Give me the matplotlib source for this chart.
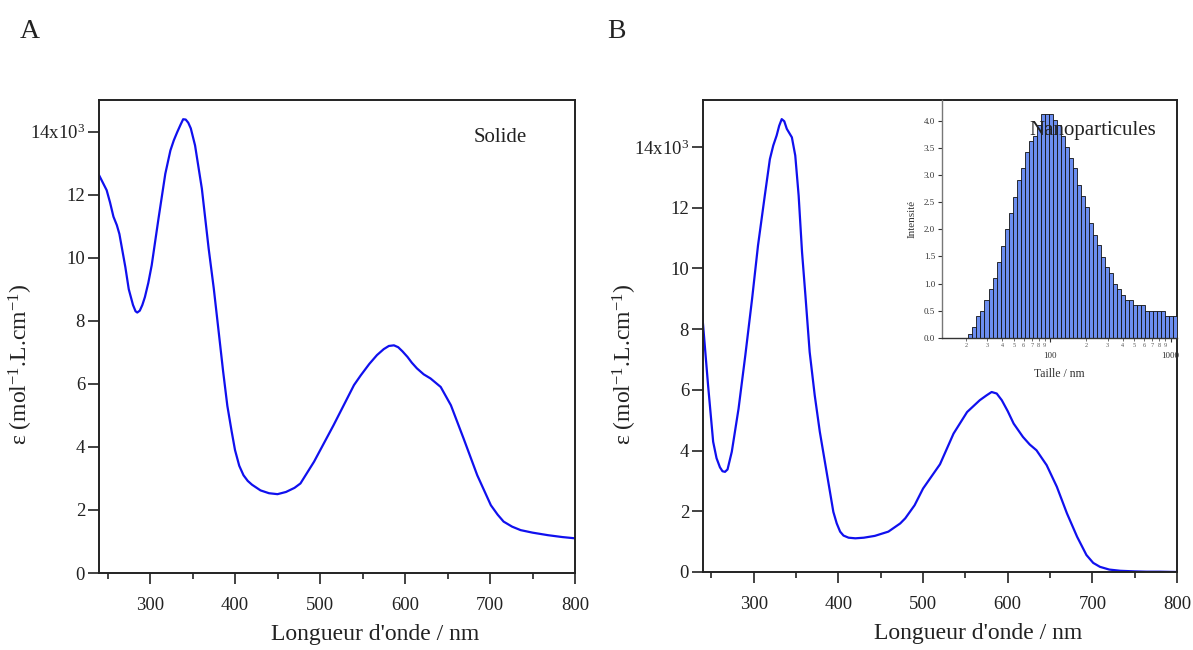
import numpy as np
import matplotlib
matplotlib.use("Agg")
import matplotlib.pyplot as plt
from matplotlib.ticker import FixedLocator, FixedFormatter, MultipleLocator, LogLocator, FuncFormatter

plt.rcParams['font.family'] = ['Liberation Serif', 'DejaVu Serif']
plt.rcParams['mathtext.fontset'] = 'custom'
plt.rcParams['mathtext.rm'] = 'Liberation Serif'
plt.rcParams['mathtext.it'] = 'Liberation Serif:italic'
plt.rcParams['mathtext.bf'] = 'Liberation Serif:bold'

# ---------------- data ----------------
# Panel A : solid (wavelength nm, epsilon x10^3)
wl_solide = [240, 249, 253, 257, 261, 264, 267, 271, 275, 280, 283, 285, 288, 291, 294, 298, 302,
             310, 318, 324, 328, 332, 336, 339, 342, 345, 348, 353, 361, 369, 375, 381, 386,
             391, 396, 400, 405, 410, 415, 420, 430, 440, 450, 460, 470, 477, 493, 516, 540,
             548, 558, 567, 575, 581, 587, 592, 597, 603, 608, 614, 622, 630, 642, 654, 669,
             685, 701, 709, 716, 726, 736, 750, 768, 785, 800]
eps_solide = [12.62, 12.14, 11.75, 11.3, 11.03, 10.75, 10.3, 9.7, 9.0, 8.5, 8.3, 8.26, 8.32, 8.5, 8.75,
              9.2, 9.76, 11.24, 12.66, 13.4, 13.72, 13.98, 14.22, 14.39, 14.38, 14.28, 14.1, 13.56,
              12.19, 10.29, 9.03, 7.6, 6.4, 5.3, 4.5, 3.9, 3.4, 3.1, 2.92, 2.8, 2.62, 2.53, 2.5,
              2.57, 2.7, 2.84, 3.53, 4.69, 5.96, 6.27, 6.63, 6.91, 7.1, 7.2, 7.22, 7.16, 7.03,
              6.85, 6.67, 6.49, 6.3, 6.17, 5.9, 5.32, 4.26, 3.1, 2.15, 1.85, 1.63, 1.47, 1.36,
              1.28, 1.2, 1.14, 1.1]

# Panel B : nanoparticles
wl_nano = [239, 246, 252, 256, 260, 263, 266, 269, 274, 282, 290, 298, 305, 313, 319, 323, 327,
           330, 333, 336, 339, 345, 349, 353, 357, 361, 366, 372, 378, 386, 394, 398, 402, 406,
           412, 420, 430, 443, 459, 473, 479, 490, 500, 510, 520, 536, 552, 567, 575, 581,
           587, 593, 600, 607, 618, 626, 634, 646, 658, 670, 682, 693, 701, 709, 720, 733,
           750, 764, 780, 800]
eps_nano = [8.51, 6.15, 4.29, 3.75, 3.45, 3.32, 3.3, 3.38, 3.96, 5.38, 7.14, 9.0, 10.76, 12.4, 13.6,
            14.05, 14.38, 14.7, 14.92, 14.85, 14.6, 14.32, 13.72, 12.4, 10.54, 9.11, 7.25, 5.82,
            4.62, 3.3, 1.98, 1.6, 1.33, 1.2, 1.13, 1.11, 1.13, 1.19, 1.33, 1.6, 1.77, 2.2, 2.75,
            3.15, 3.55, 4.56, 5.27, 5.66, 5.82, 5.93, 5.88, 5.66, 5.3, 4.89, 4.45, 4.2, 4.01,
            3.52, 2.81, 1.93, 1.16, 0.56, 0.3, 0.17, 0.08, 0.04, 0.02, 0.01, 0.01, 0.0]

# Inset : size distribution (log bins, 30 per decade)
hist_start = 20.9
bins_per_decade = 30
hist_heights = [0.08, 0.2, 0.4, 0.5, 0.7, 0.9, 1.1, 1.4, 1.7, 2.0, 2.3, 2.6, 2.9, 3.12,
                3.42, 3.62, 3.72, 3.92, 4.12, 4.12, 4.12, 4.02, 3.92, 3.72, 3.52, 3.32,
                3.12, 2.81, 2.61, 2.41, 2.11, 1.9, 1.71, 1.49, 1.3, 1.2, 1.0, 0.9, 0.8,
                0.7, 0.7, 0.6, 0.6, 0.6, 0.5, 0.5, 0.5, 0.5, 0.5, 0.4, 0.4, 0.4, 0.23]

y_ticks = [0, 2, 4, 6, 8, 10, 12, 14]
y_tick_labels = ['0', '2', '4', '6', '8', '10', '12', '14x10$^{3}$']
x_ticks = [300, 400, 500, 600, 700, 800]
inset_y_ticks = [0.0, 0.5, 1.0, 1.5, 2.0, 2.5, 3.0, 3.5, 4.0]

LINE = '#1010ee'
W, H = 1193, 650
fig = plt.figure(figsize=(W / 100, H / 100), dpi=100)

def px_rect(l, r, t, b):
    return [l / W, 1 - b / H, (r - l) / W, (b - t) / H]

axA = fig.add_axes(px_rect(99, 575, 100, 573))
axB = fig.add_axes(px_rect(703, 1177, 100, 572))

def style(ax, ymax):
    ax.set_xlim(240, 800)
    ax.set_ylim(0, ymax)
    ax.yaxis.set_major_locator(FixedLocator(y_ticks))
    ax.yaxis.set_major_formatter(FixedFormatter(y_tick_labels))
    ax.xaxis.set_major_locator(FixedLocator(x_ticks))
    ax.xaxis.set_minor_locator(MultipleLocator(50))
    ax.tick_params(which='major', direction='out', length=8, width=1.2, labelsize=13.5,
                   colors='#222222', pad=2)
    ax.tick_params(axis='x', which='major', pad=9)
    ax.tick_params(which='minor', direction='out', length=4.5, width=1.2, colors='#222222')
    for s in ax.spines.values():
        s.set_linewidth(1.4)
        s.set_color('#222222')
    ax.set_xlabel("Longueur d'onde / nm", fontsize=17, color='#222222')
    ax.set_ylabel("ε (mol$^{-1}$.L.cm$^{-1}$)", fontsize=17, color='#222222')
    ax.xaxis.set_label_coords(0.58, -0.108)
    ax.yaxis.set_label_coords(-0.134, 0.44)

axA.plot(wl_solide, eps_solide, color=LINE, lw=1.6)
style(axA, 15.0)
axB.plot(wl_nano, eps_nano, color=LINE, lw=1.6)
style(axB, 15.55)

fig.text(20 / W, 1 - 32 / H, 'A', fontsize=20, va='center', ha='left', color='#222222')
fig.text(607 / W, 1 - 32 / H, 'B', fontsize=20, va='center', ha='left', color='#222222')
fig.text(500 / W, 1 - 137 / H, 'Solide', fontsize=15, ha='center', va='center', color='#222222')

# ---------------- inset ----------------
axI = fig.add_axes(px_rect(942, 1177, 100, 338))
axI.set_facecolor('none')
edges = [hist_start * 10 ** (i / bins_per_decade) for i in range(len(hist_heights) + 1)]
lefts = edges[:-1]
widths = [edges[i + 1] - edges[i] for i in range(len(hist_heights))]
axI.bar(lefts, hist_heights, width=widths, align='edge', color='#6c8ef0',
        edgecolor='#111111', linewidth=0.6)
axI.set_xscale('log')
axI.set_xlim(12.6, 1130)
axI.set_ylim(0, 4.38)
axI.yaxis.set_major_locator(FixedLocator(inset_y_ticks))
axI.yaxis.set_major_formatter(FuncFormatter(lambda v, p: f'{v:.1f}'))
axI.xaxis.set_major_locator(LogLocator(base=10))
axI.xaxis.set_major_formatter(FuncFormatter(lambda v, p: f'{v:g}'))
axI.xaxis.set_minor_locator(LogLocator(base=10, subs=np.arange(2, 10)))
def minor_fmt(v, p):
    m = v / 10 ** np.floor(np.log10(v) + 1e-9)
    return f'{int(round(m))}'
axI.xaxis.set_minor_formatter(FuncFormatter(minor_fmt))
axI.tick_params(which='major', direction='out', length=3, width=0.8, labelsize=6.5,
                colors='#333333', pad=2)
axI.tick_params(axis='x', which='major', pad=7)
axI.tick_params(which='minor', direction='out', length=2, width=0.6, labelsize=4.5,
                colors='#555555', pad=1.5)
axI.spines['top'].set_visible(False)
axI.spines['right'].set_visible(False)
axI.spines['left'].set_color('#777777')
axI.spines['bottom'].set_color('#333333')
axI.spines['left'].set_linewidth(1.0)
axI.spines['bottom'].set_linewidth(1.0)
axI.set_xlabel('Taille / nm', fontsize=8.5, color='#333333', labelpad=6)
axI.set_ylabel('Intensité', fontsize=8, color='#333333', labelpad=5)

fig.text(1093 / W, 1 - 131 / H, 'Nanoparticules', fontsize=15, ha='center', va='center',
         color='#222222', zorder=10)

fig.savefig('out.png', dpi=100)
